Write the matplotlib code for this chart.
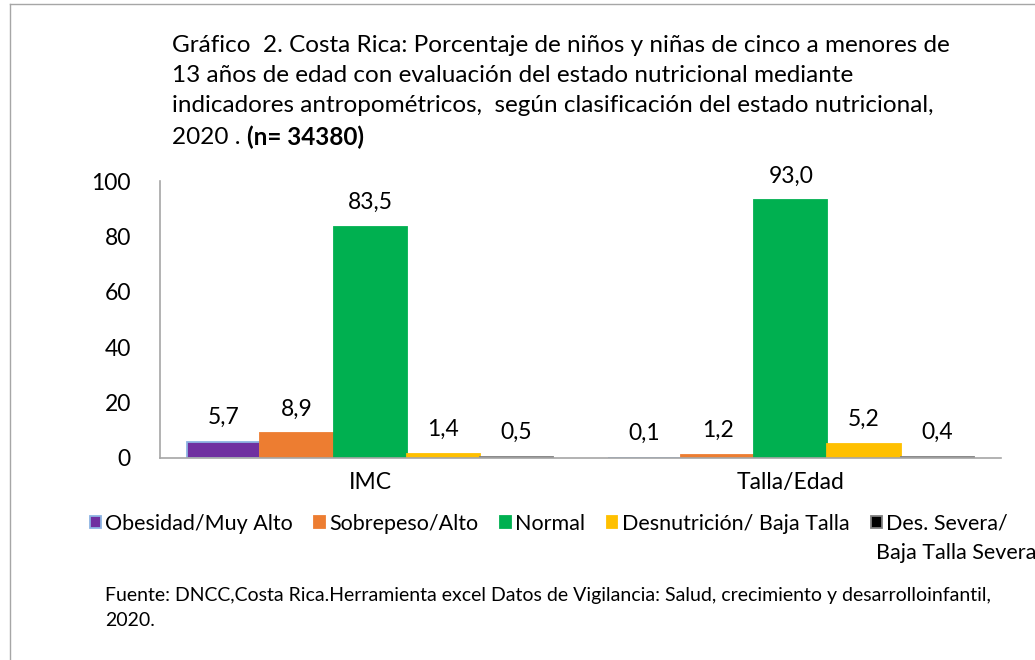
import numpy as np
import matplotlib
matplotlib.use("Agg")
import matplotlib.pyplot as plt

plt.rcParams['font.family'] = ['Lato', 'DejaVu Sans']

# data
categories = ['IMC', 'Talla/Edad']
series = ['Obesidad/Muy Alto', 'Sobrepeso/Alto', 'Normal',
          'Desnutrición/ Baja Talla', 'Des. Severa/']
values = [
    [5.7, 0.1],
    [8.9, 1.2],
    [83.5, 93.0],
    [1.4, 5.2],
    [0.5, 0.4],
]
colors = ['#7030A0', '#ED7D31', '#00B050', '#FFC000', '#000000']
edges = ['#8EB4E3', '#ED7D31', '#00B050', '#FFC000', '#7F7F7F']
yticks = [0, 20, 40, 60, 80, 100]

title_lines = [
    'Gráfico  2. Costa Rica: Porcentaje de niños y niñas de cinco a menores de',
    '13 años de edad con evaluación del estado nutricional mediante',
    'indicadores antropométricos,  según clasificación del estado nutricional,',
]
source = ('Fuente: DNCC,Costa Rica.Herramienta excel Datos de Vigilancia: '
          'Salud, crecimiento y desarrolloinfantil,\n2020.')

W, H = 1035, 660
fig = plt.figure(figsize=(W / 100, H / 100), dpi=100)
ax = fig.add_axes([160 / W, 1 - 458 / H, 841 / W, 277 / H])

x = np.arange(len(categories))
bw = 0.174
for i, s in enumerate(series):
    pos = x + (i - 2) * bw
    bars = ax.bar(pos, values[i], bw, color=colors[i], edgecolor=edges[i],
                  linewidth=1.3, label=s)
    for b, v in zip(bars, values[i]):
        ax.annotate(f'{v:.1f}'.replace('.', ','),
                    (b.get_x() + b.get_width() / 2, v),
                    xytext=(0, 10), textcoords='offset points',
                    ha='center', va='bottom', fontsize=16.5)

ax.set_xlim(-0.5, 1.5)
ax.set_ylim(0, 100)
ax.set_yticks(yticks)
ax.set_xticks(x)
ax.set_xticklabels(categories, fontsize=16.5)
ax.tick_params(axis='both', length=0, labelsize=16.5)
ax.tick_params(axis='y', pad=21)
ax.tick_params(axis='x', pad=10)
for sp in ['top', 'right']:
    ax.spines[sp].set_visible(False)
for sp in ['left', 'bottom']:
    ax.spines[sp].set_color('#A6A6A6')
    ax.spines[sp].set_linewidth(1.2)

# title
for k, line in enumerate(title_lines):
    fig.text(172 / W, 1 - (45 + 30 * k) / H, line, fontsize=17.5,
             va='center', ha='left')
t4 = fig.text(172 / W, 1 - 137 / H, '2020 . ', fontsize=17.5,
              va='center', ha='left')
tb = fig.text(0, 1 - 137 / H, '(n= 34380)', fontsize=17.5,
              fontweight='bold', va='center', ha='left')
# place bold part right after the regular text
fig.canvas.draw()
bb = t4.get_window_extent()
tb.set_position((bb.x1 / W, 1 - 137 / H))

# legend
leg = fig.legend(loc='center left', bbox_to_anchor=(90 / W, 1 - 524 / H),
                 ncol=5, frameon=False, fontsize=15.5,
                 handlelength=0.5, handleheight=0.5, handletextpad=0.2,
                 columnspacing=1.0, borderaxespad=0, borderpad=0)
fig.text(876 / W, 1 - 553 / H, 'Baja Talla Severa', fontsize=15.5,
         va='center', ha='left')

fig.text(105 / W, 1 - 608 / H, source, fontsize=14, va='center',
         ha='left', linespacing=1.55)

# outer frame (top and left only visible)
fig.add_artist(plt.Line2D([10 / W, 1], [1 - 4 / H, 1 - 4 / H],
                          transform=fig.transFigure, color='#A6A6A6', lw=1))
fig.add_artist(plt.Line2D([10 / W, 10 / W], [0, 1 - 4 / H],
                          transform=fig.transFigure, color='#A6A6A6', lw=1))

fig.savefig('out.png', dpi=100)
